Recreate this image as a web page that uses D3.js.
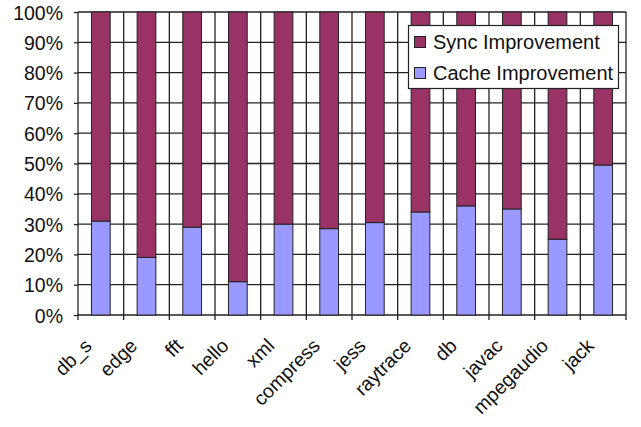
<!DOCTYPE html>
<html><head><meta charset="utf-8">
<script src="https://cdn.jsdelivr.net/npm/d3@7"></script>
<style>body{margin:0;background:#fff}svg{display:block;font-family:"Liberation Sans",Arial,sans-serif}</style>
</head><body><svg id="c" width="641" height="427"></svg>
<script>
const categories = ["db_s","edge","fft","hello","xml","compress","jess","raytrace","db","javac","mpegaudio","jack"];
const cacheValues = [31,19,29,11,30,28.5,30.5,34,36,35,25,49.5];
const syncValues = cacheValues.map(v => 100 - v);
const yTicks = [0,10,20,30,40,50,60,70,80,90,100];
const seriesNames = ["Sync Improvement","Cache Improvement"];
const colors = {sync:"#993366", cache:"#9999FF"};

const svg = d3.select("#c");
const L=78, R=626, T=12, B=315;
const xb = d3.scaleBand().domain(categories).range([L,R]);
const y = d3.scaleLinear().domain([0,100]).range([B,T]);

// horizontal grid
svg.append("g").selectAll("line").data(yTicks).join("line")
  .attr("x1",L).attr("x2",R).attr("y1",d=>y(d)).attr("y2",d=>y(d))
  .attr("stroke","#222").attr("stroke-width",1.3);
// vertical grid at category boundaries
const bounds = categories.map(c=>xb(c)).concat([R]);
svg.append("g").selectAll("line").data(bounds).join("line")
  .attr("x1",d=>d).attr("x2",d=>d).attr("y1",T).attr("y2",B+5)
  .attr("stroke","#222").attr("stroke-width",1.3);

const bw = xb.bandwidth()*0.41;
const cx = c => xb(c)+xb.bandwidth()/2;
// cache bars
svg.append("g").selectAll("rect").data(categories).join("rect")
  .attr("x",c=>cx(c)-bw/2).attr("width",bw)
  .attr("y",(c,i)=>y(cacheValues[i])).attr("height",(c,i)=>y(0)-y(cacheValues[i]))
  .attr("fill",colors.cache).attr("stroke","#222").attr("stroke-width",1);
// sync bars
svg.append("g").selectAll("rect").data(categories).join("rect")
  .attr("x",c=>cx(c)-bw/2).attr("width",bw)
  .attr("y",(c,i)=>y(cacheValues[i]+syncValues[i])).attr("height",(c,i)=>y(cacheValues[i])-y(cacheValues[i]+syncValues[i]))
  .attr("fill",colors.sync).attr("stroke","#222").attr("stroke-width",1);

// y axis
const ya = d3.axisLeft(y).tickValues(yTicks).tickFormat(d=>d+"%").tickSize(4).tickPadding(11);
const yg = svg.append("g").attr("transform",`translate(${L},0)`).call(ya);
yg.select(".domain").remove();
yg.selectAll("line").attr("stroke","#222").attr("stroke-width",1.3);
yg.selectAll("text").attr("font-size",19.5).attr("fill","#111").attr("dy","0.36em");

// x labels
svg.append("g").selectAll("text").data(categories).join("text")
  .attr("transform",c=>`translate(${cx(c)-8},${B+32}) rotate(-45)`)
  .attr("text-anchor","end").attr("font-size",19.5).attr("fill","#111").text(c=>c);

// legend
const lg = svg.append("g");
lg.append("rect").attr("x",408.5).attr("y",25.5).attr("width",210).attr("height",63)
  .attr("fill","#fff").attr("stroke","#222").attr("stroke-width",1.2);
const items = [{n:seriesNames[0],c:colors.sync},{n:seriesNames[1],c:colors.cache}];
const ly = d3.scalePoint().domain(seriesNames).range([42,73]);
lg.selectAll("rect.k").data(items).join("rect").attr("class","k")
  .attr("x",414.5).attr("y",d=>ly(d.n)-5.5).attr("width",11).attr("height",11)
  .attr("fill",d=>d.c).attr("stroke","#222").attr("stroke-width",1);
lg.selectAll("text").data(items).join("text")
  .attr("x",433).attr("y",d=>ly(d.n)).attr("dy","0.36em").attr("font-size",20).attr("fill","#111").text(d=>d.n);
</script></body></html>
